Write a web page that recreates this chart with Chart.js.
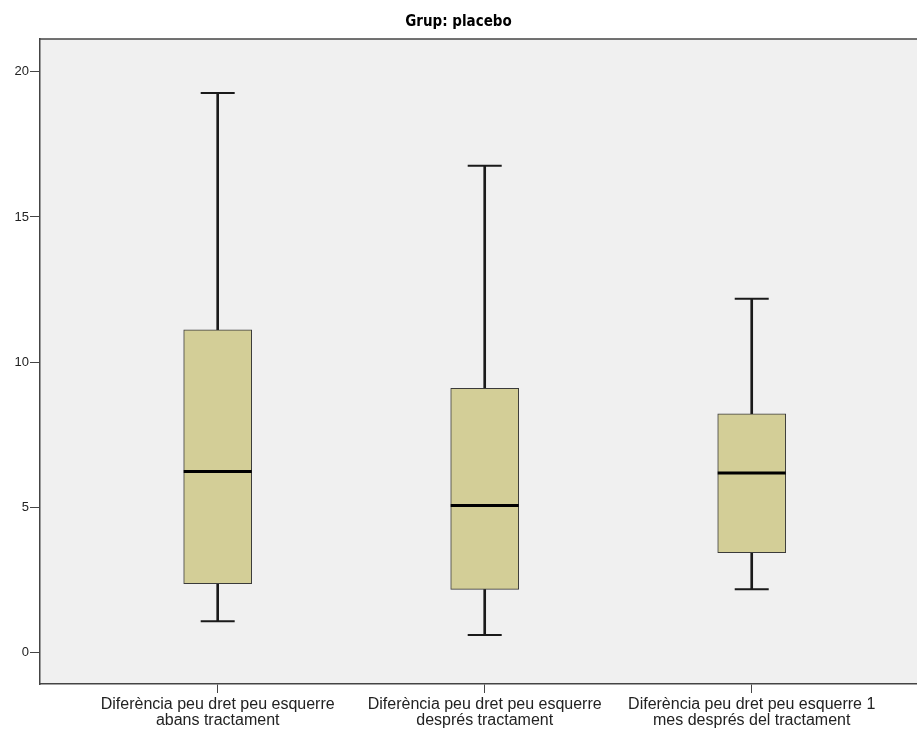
<!DOCTYPE html>
<html>
<head>
<meta charset="utf-8">
<script src="https://cdn.jsdelivr.net/npm/chart.js@4.4.0/dist/chart.umd.min.js"></script>
<style>
  body { margin: 0; background: #fff; overflow: hidden; }
  canvas { display: block; }
</style>
</head>
<body>
<canvas id="chart" width="917" height="731"></canvas>
<script>
// Boxplot - Grup: placebo
const categories = [
  ['Diferència peu dret peu esquerre', 'abans tractament'],
  ['Diferència peu dret peu esquerre', 'després tractament'],
  ['Diferència peu dret peu esquerre 1', 'mes després del tractament']
];
const whiskerLow = [1.07, 0.60, 2.17];
const q1 = [2.37, 2.17, 3.43];
const median = [6.23, 5.06, 6.18];
const q3 = [11.11, 9.10, 8.22];
const whiskerHigh = [19.27, 16.76, 12.18];
const yTicks = [0, 5, 10, 15, 20];

const boxColor = '#D3CE97';
const lineColor = '#1a1a1a';
const axisColor = '#444444';

const xs = categories.map((c, i) => i + 1);

// plot background + top border
const plotFrame = {
  id: 'plotFrame',
  beforeDraw(chart) {
    const { ctx, chartArea } = chart;
    ctx.save();
    ctx.fillStyle = '#F0F0F0';
    ctx.fillRect(chartArea.left, chartArea.top, chartArea.right - chartArea.left, chartArea.bottom - chartArea.top);
    ctx.strokeStyle = axisColor;
    ctx.lineWidth = 1.5;
    ctx.beginPath();
    ctx.moveTo(chartArea.left, chartArea.top);
    ctx.lineTo(chartArea.right, chartArea.top);
    ctx.stroke();
    ctx.restore();
  }
};

const ctx = document.getElementById('chart').getContext('2d');

new Chart(ctx, {
  type: 'bar',
  data: {
    datasets: [
      {
        label: 'box',
        data: xs.map((x, i) => ({ x: x, y: [q1[i], q3[i]] })),
        backgroundColor: boxColor,
        borderColor: '#3a3a3a',
        borderWidth: 1,
        borderSkipped: false,
        barThickness: 68,
        grouped: false,
        order: 2
      },
      {
        label: 'upper whisker',
        data: xs.map((x, i) => ({ x: x, y: [q3[i], whiskerHigh[i]] })),
        backgroundColor: lineColor,
        borderWidth: 0,
        barThickness: 2,
        grouped: false,
        order: 3
      },
      {
        label: 'lower whisker',
        data: xs.map((x, i) => ({ x: x, y: [whiskerLow[i], q1[i]] })),
        backgroundColor: lineColor,
        borderWidth: 0,
        barThickness: 2,
        grouped: false,
        order: 3
      },
      {
        type: 'scatter',
        label: 'median',
        data: xs.map((x, i) => ({ x: x, y: median[i] })),
        pointStyle: 'line',
        radius: 34,
        borderWidth: 3,
        borderColor: '#000',
        showLine: false,
        order: 0
      },
      {
        type: 'scatter',
        label: 'caps',
        data: xs.map((x, i) => ({ x: x, y: whiskerHigh[i] }))
          .concat(xs.map((x, i) => ({ x: x, y: whiskerLow[i] }))),
        pointStyle: 'line',
        radius: 17,
        borderWidth: 2,
        borderColor: lineColor,
        showLine: false,
        order: 0
      }
    ]
  },
  options: {
    responsive: false,
    animation: false,
    layout: { padding: 0, autoPadding: false },
    scales: {
      x: {
        type: 'linear',
        min: 0.3345,
        max: 3.619,
        offset: false,
        afterBuildTicks: scale => {
          scale.ticks = xs.map(v => ({ value: v }));
        },
        afterFit: scale => {
          scale.height = 47;
          scale.paddingLeft = 0;
          scale.paddingRight = 0;
        },
        border: { display: true, color: axisColor, width: 1.5 },
        grid: { offset: false, drawOnChartArea: false, drawTicks: true, tickLength: 9, color: axisColor, lineWidth: 1 },
        ticks: {
          autoSkip: false,
          maxRotation: 0,
          padding: 4,
          color: '#222',
          font: { family: 'Liberation Sans, Arial, sans-serif', size: 16, lineHeight: 1.0 },
          callback: value => categories[value - 1] || ''
        }
      },
      y: {
        min: -1.09,
        max: 21.13,
        afterBuildTicks: scale => {
          scale.ticks = yTicks.map(v => ({ value: v }));
        },
        afterFit: scale => {
          scale.width = 40;
          scale.paddingTop = 0;
          scale.paddingBottom = 0;
        },
        border: { display: true, color: axisColor, width: 1.5 },
        grid: { drawOnChartArea: false, drawTicks: true, tickLength: 10, color: axisColor, lineWidth: 1 },
        ticks: {
          padding: 1,
          color: '#222',
          font: { family: 'Liberation Sans, Arial, sans-serif', size: 13 }
        }
      }
    },
    plugins: {
      legend: { display: false },
      tooltip: { enabled: false },
      title: {
        display: true,
        text: 'Grup: placebo',
        color: '#000',
        font: { family: 'Liberation Sans Narrow, DejaVu Sans Condensed, Liberation Sans, sans-serif', size: 15, weight: 'bold', lineHeight: 1.2 },
        padding: { top: 13, bottom: 8 }
      }
    }
  },
  plugins: [plotFrame]
});
</script>
</body>
</html>
